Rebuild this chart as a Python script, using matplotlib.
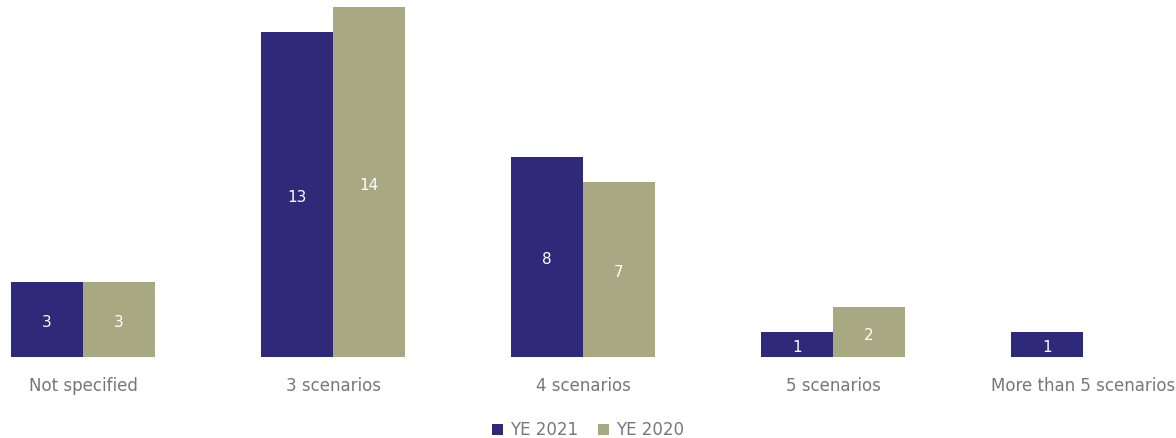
"""
Scenario count comparison, YE 2021 vs YE 2020
"""
import matplotlib.pyplot as plt
import numpy as np

categories = ["Not specified", "3 scenarios", "4 scenarios", "5 scenarios", "More than 5 scenarios"]
ye_2021 = [3, 13, 8, 1, 1]
ye_2020 = [3, 14, 7, 2, 0]

NAVY = "#2e2a79"
OLIVE = "#a8a882"
GREY = "#777777"

plt.rcParams["font.family"] = ["DejaVu Sans"]

fig = plt.figure(figsize=(11.76, 4.38), dpi=100)
axis = fig.add_axes([0, 81 / 438, 1, 357 / 438])

x = np.arange(len(categories))
width = 0.288

bars_a = axis.bar(x - width / 2, ye_2021, width, color=NAVY, label="YE 2021")
bars_b = axis.bar(x + width / 2, ye_2020, width, color=OLIVE, label="YE 2020")

for bars in (bars_a, bars_b):
    for bar in bars:
        h = bar.get_height()
        if h > 0:
            axis.text(bar.get_x() + bar.get_width() / 2, h / 2 - 0.12, f"{int(h)}",
                      ha="center", va="center", color="white", fontsize=11)

axis.set_xlim(-83 / 250, (1176 - 83) / 250)
axis.set_ylim(0, 357 / 25)
axis.axis("off")

for i, name in enumerate(categories):
    axis.text(x[i], -1.15, name, ha="center", va="center", color=GREY, fontsize=12)

fig.legend(loc="center", bbox_to_anchor=(588 / 1176, 1 - 430 / 438), ncol=2,
           frameon=False, fontsize=12, labelcolor=GREY, handlelength=0.65,
           handleheight=0.65, handletextpad=0.4, columnspacing=1.2)

fig.savefig("out.png", dpi=100)
